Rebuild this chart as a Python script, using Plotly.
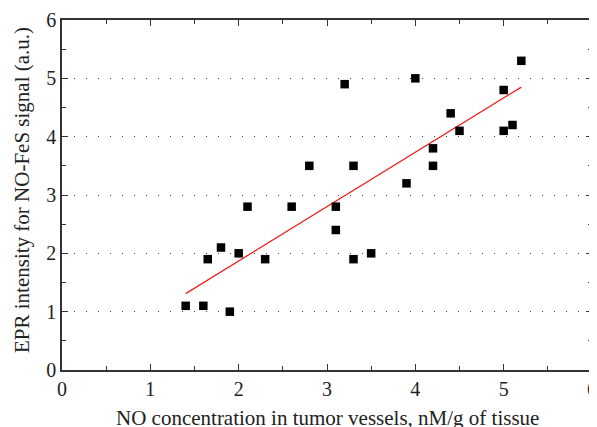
import plotly.graph_objects as go

no_conc = [1.4, 1.6, 1.65, 1.8, 1.9, 2.0, 2.1, 2.3, 2.6, 2.8, 3.1, 3.1, 3.2,
           3.3, 3.3, 3.5, 3.9, 4.0, 4.2, 4.2, 4.4, 4.5, 5.0, 5.0, 5.1, 5.2]
epr_signal = [1.1, 1.1, 1.9, 2.1, 1.0, 2.0, 2.8, 1.9, 2.8, 3.5, 2.8, 2.4, 4.9,
              3.5, 1.9, 2.0, 3.2, 5.0, 3.8, 3.5, 4.4, 4.1, 4.8, 4.1, 4.2, 5.3]
fit_x = [1.4, 5.2]
fit_y = [1.31, 4.85]

FONT = "Liberation Serif"
AX = "#333333"
TXT = "#222222"

fig = go.Figure()
fig.add_trace(go.Scatter(x=fit_x, y=fit_y, mode="lines",
                         line=dict(color="#ee2222", width=1.3),
                         showlegend=False, hoverinfo="skip"))
fig.add_trace(go.Scatter(x=no_conc, y=epr_signal, mode="markers",
                         marker=dict(symbol="square", size=8.5, color="black",
                                     line=dict(width=0)),
                         showlegend=False))

axis_common = dict(
    showline=True, linecolor=AX, linewidth=1.5, mirror="allticks",
    ticks="inside", ticklen=6, tickwidth=1, tickcolor=AX,
    minor=dict(ticks="inside", ticklen=4, tickwidth=1, tickcolor=AX, dtick=0.5),
    zeroline=False, dtick=1, automargin=False,
    tickfont=dict(family=FONT, size=20, color=TXT),
)

fig.update_xaxes(range=[0, 6], showgrid=False, **axis_common)
fig.update_yaxes(range=[0, 6], showgrid=True, gridcolor="#444444", gridwidth=1,
                 griddash="1px,11px", **axis_common)

fig.add_annotation(text="NO concentration in tumor vessels, nM/g of tissue",
                   xref="paper", yref="paper", x=0.5, y=0, yanchor="middle",
                   yshift=-48, showarrow=False,
                   font=dict(family=FONT, size=21, color=TXT))
fig.add_annotation(text="EPR intensity for NO-FeS signal (a.u.)",
                   xref="paper", yref="paper", x=0, y=0.5, xanchor="center",
                   xshift=-40, yshift=5, textangle=-90, showarrow=False,
                   font=dict(family=FONT, size=21, color=TXT))

# page body has an 8px default margin; size the figure to fill the window
fig.update_layout(width=589, height=419,
                  margin=dict(l=54, r=5, t=12, b=57),
                  plot_bgcolor="white", paper_bgcolor="white",
                  font=dict(family=FONT))

fig.write_html("out.html")
